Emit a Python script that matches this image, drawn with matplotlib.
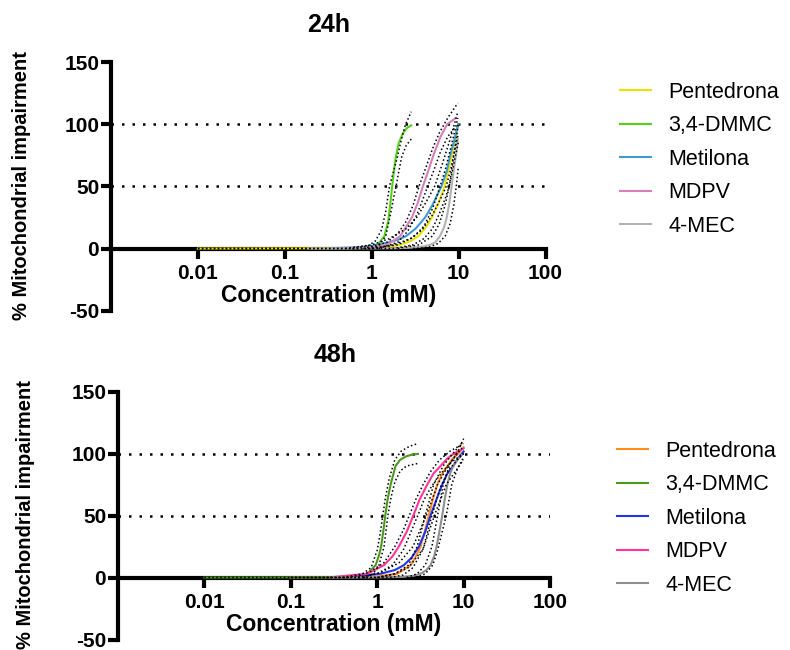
import matplotlib
matplotlib.use("Agg")
import matplotlib.pyplot as plt
from matplotlib.ticker import NullLocator

plt.rcParams["font.family"] = ["Liberation Sans", "DejaVu Sans"]
plt.rcParams["axes.unicode_minus"] = False

compounds = ["Pentedrona", "3,4-DMMC", "Metilona", "MDPV", "4-MEC"]
x_ticks = [0.01, 0.1, 1, 10, 100]
x_tick_labels = ["0.01", "0.1", "1", "10", "100"]
y_ticks = [-50, 0, 50, 100, 150]
ref_levels = [50, 100]

# ---- 24h: fitted curves, points (mM, %) ----
h24_pentedrona = [(0.01, 0), (0.5, 0.2), (1, 0.7), (1.5, 1.5), (2.13, 3), (2.8, 6), (3.45, 10),
                  (4.2, 17), (4.92, 25), (5.9, 37), (6.9, 50), (7.6, 62), (8.35, 75), (9.1, 88), (9.9, 100)]
h24_dmmc = [(0.5, 0.3), (1.0, 1.5), (1.2, 4), (1.4, 10), (1.55, 22), (1.65, 38), (1.72, 50),
            (1.8, 62), (1.9, 74), (2.05, 85), (2.3, 93), (2.55, 97), (2.85, 99)]
h24_metilona = [(0.36, 0.3), (0.6, 0.8), (1.0, 2), (1.56, 5), (2.0, 7), (2.49, 10), (3.2, 16),
                (4.12, 25), (5.0, 35), (6.35, 50), (7.3, 62), (8.0, 75), (9.0, 88), (9.9, 100)]
h24_mdpv = [(0.5, 0.2), (1, 1), (1.5, 3), (2.13, 10), (2.9, 25), (3.4, 37), (3.88, 50),
            (4.5, 63), (5.13, 75), (6.2, 90), (7.4, 100), (9.3, 105)]
h24_mec = [(0.19, 0), (1, 0.1), (2, 0.3), (3, 0.8), (4, 1.8), (4.7, 3), (5.4, 5), (6.1, 10), (6.8, 17),
           (7.3, 25), (7.8, 36), (8.2, 47), (8.6, 58), (9.1, 70), (9.4, 77), (9.8, 88)]

# 24h: 95% confidence bands (upper, lower)
h24_pentedrona_ci = ([(0.01, 0), (1, 0), (2, 3), (3, 9), (4, 18), (5, 32), (6, 48), (7, 63), (8.2, 82), (9.8, 105)],
                     [(0.01, 0), (1.8, 0), (3, 3), (4, 8), (5, 16), (6, 28), (7, 40), (7.8, 50), (8.8, 68), (9.9, 85)])
h24_dmmc_ci = ([(0.6, 0), (0.9, 2), (1.1, 6), (1.3, 15), (1.45, 30), (1.6, 50), (1.8, 63), (1.98, 74),
                (2.2, 88), (2.43, 99), (2.65, 105), (2.85, 110)],
               [(0.9, 0), (1.2, 2), (1.45, 10), (1.65, 28), (1.8, 42), (1.91, 50), (2.05, 62), (2.22, 74),
                (2.5, 83), (2.85, 88)])
h24_metilona_ci = ([(0.5, 0), (1, 3), (1.6, 8), (2.5, 16), (3.3, 25), (4.2, 37), (5.3, 50), (6.5, 68), (8, 88), (9.8, 110)],
                   [(1, 0), (1.8, 3), (2.8, 8), (3.8, 15), (5.0, 27), (6.2, 40), (7.2, 50), (8.2, 65), (9.2, 82), (9.9, 92)])
h24_mdpv_ci = ([(0.8, 0), (1.5, 5), (2.0, 12), (2.5, 22), (3.0, 35), (3.5, 50), (4.2, 65), (5.0, 80), (6.0, 93),
                (7.5, 105), (9.8, 117)],
               [(1.2, 0), (2, 5), (2.6, 14), (3.3, 27), (3.9, 40), (4.4, 50), (5.2, 63), (6.2, 78), (7.5, 90), (9.0, 97)])
h24_mec_ci = ([(2, 0), (3.5, 3), (5, 10), (6, 20), (7, 35), (7.8, 50), (8.6, 70), (9.5, 90), (9.9, 100)],
              [(3, 0), (4.5, 1), (5.8, 4), (7, 10), (8, 20), (8.8, 35), (9.4, 50), (9.9, 65)])

# ---- 48h ----
h48_pentedrona = [(0.1, 0), (0.5, 0.2), (1, 0.8), (1.71, 3), (2.44, 10), (2.8, 17), (3.18, 25), (3.55, 37),
                  (3.95, 50), (4.4, 63), (4.96, 75), (5.7, 84), (6.5, 90), (7.5, 96), (8.7, 100), (10, 105)]
h48_dmmc = [(0.01, 0), (0.3, 0.2), (0.6, 1), (0.77, 3), (0.96, 10), (1.05, 18), (1.11, 25), (1.18, 38),
            (1.24, 50), (1.32, 63), (1.43, 75), (1.63, 90), (1.85, 95), (2.13, 97.5), (2.5, 99), (2.96, 99.7)]
h48_metilona = [(0.3, 0), (0.5, 0.5), (1.09, 3), (1.6, 6), (2.04, 10), (2.5, 16), (3.04, 25), (3.6, 37),
                (4.15, 50), (4.85, 63), (5.66, 75), (6.5, 84), (7.6, 90), (8.8, 97), (10, 101.6)]
h48_mdpv = [(0.3, 0.3), (0.77, 3), (1.2, 10), (1.5, 17), (1.78, 25), (2.2, 37), (2.62, 50), (3.1, 63),
            (3.8, 75), (4.5, 84), (5.42, 90), (6.5, 96), (7.7, 100), (10, 104)]
h48_mec = [(0.3, 0), (1, 0.1), (2, 0.5), (2.7, 1.5), (3.18, 3), (3.7, 6), (4.15, 10), (4.55, 17), (4.87, 25),
           (5.25, 37), (5.66, 50), (6.05, 63), (6.48, 75), (7, 84), (7.6, 90), (8.5, 95), (9.6, 99)]

h48_pentedrona_ci = ([(0.1, 0), (1, 0), (1.6, 3), (2.3, 10), (2.9, 25), (3.6, 50), (4.5, 75), (5.8, 90), (7.5, 100), (10, 110)],
                     [(0.1, 0), (1.4, 0), (2.0, 2), (2.6, 8), (3.4, 23), (4.3, 50), (5.4, 73), (6.8, 87), (8.5, 95), (10, 100)])
h48_dmmc_ci = ([(0.01, 0), (0.45, 0), (0.65, 2), (0.85, 8), (1.0, 22), (1.08, 35), (1.16, 50), (1.25, 65), (1.38, 80),
                (1.6, 95), (1.9, 102), (2.4, 106), (2.96, 108)],
               [(0.7, 0), (0.9, 3), (1.05, 10), (1.2, 25), (1.33, 50), (1.45, 65), (1.6, 77), (1.85, 86),
                (2.2, 90), (2.96, 92)])
h48_metilona_ci = ([(0.6, 0), (1.1, 4), (1.8, 12), (2.6, 25), (3.7, 50), (5.0, 75), (6.6, 90), (8.5, 100), (10, 106)],
                   [(1.0, 0), (1.6, 3), (2.3, 8), (3.4, 23), (4.6, 50), (6.3, 75), (8.5, 88), (10, 95)])
h48_mdpv_ci = ([(0.4, 0), (0.8, 4), (1.2, 12), (1.6, 25), (2.0, 38), (2.35, 50), (2.8, 63), (3.4, 75), (4.2, 86),
                (5.3, 95), (7, 102), (10, 108)],
               [(0.6, 0), (1.0, 3), (1.5, 10), (2.0, 22), (2.5, 38), (2.95, 50), (3.5, 63), (4.3, 74), (5.5, 84),
                (7.2, 93), (10, 100)])
h48_mec_ci = ([(2.2, 0), (2.9, 3), (3.6, 10), (4.3, 25), (5.0, 50), (5.8, 75), (7, 92), (8.5, 101), (10, 112)],
              [(2.8, 0), (3.6, 3), (4.4, 10), (5.0, 22), (6.3, 50), (7.3, 75), (8.5, 88), (10, 97)])

colors_24 = ["#ece400", "#55d11a", "#3c9bd6", "#d77fb9", "#b3b3b3"]
colors_48 = ["#ff8c1a", "#4a9a1c", "#2233ee", "#ff3399", "#8f8f8f"]

panels = [
    ("24h", [h24_pentedrona, h24_dmmc, h24_metilona, h24_mdpv, h24_mec],
     [h24_pentedrona_ci, h24_dmmc_ci, h24_metilona_ci, h24_mdpv_ci, h24_mec_ci], colors_24),
    ("48h", [h48_pentedrona, h48_dmmc, h48_metilona, h48_mdpv, h48_mec],
     [h48_pentedrona_ci, h48_dmmc_ci, h48_metilona_ci, h48_mdpv_ci, h48_mec_ci], colors_48),
]

W, H = 790, 650
fig = plt.figure(figsize=(W / 100, H / 100), dpi=100)

# pixel boxes: left, top, right, bottom
boxes = [(111, 62, 545.5, 310.7), (118, 391.5, 550, 639.5)]
title_pos = [(329, 25), (335, 355)]
ylabel_pos = [(22, 186), (26, 515)]
legend_pos = [(620, 82), (617, 441)]


def xy(points):
    return [p[0] for p in points], [p[1] for p in points]


for (title, curves, cis, colors), (l, t, r, b), tp, yp, lp in zip(panels, boxes, title_pos, ylabel_pos, legend_pos):
    ax = fig.add_axes([l / W, 1 - b / H, (r - l) / W, (b - t) / H])
    ax.set_xscale("log")
    ax.set_xlim(0.001, 100)
    ax.set_ylim(-50, 150)

    for lev in ref_levels:
        ax.axhline(lev, color="black", lw=1.8, linestyle=(0, (1, 3.2)), zorder=1)

    handles = []
    for pts, ci, col, name in zip(curves, cis, colors, compounds):
        x, y = xy(pts)
        ln, = ax.plot(x, y, color=col, lw=1.5, zorder=3, label=name)
        handles.append(ln)
        for band in ci:
            bx, by = xy(band)
            ax.plot(bx, by, color="black", lw=1.1, linestyle=(0, (1, 1.6)), zorder=3.5)

    for side in ["top", "right"]:
        ax.spines[side].set_visible(False)
    ax.spines["bottom"].set_position(("data", 0))
    ax.spines["bottom"].set_linewidth(3)
    ax.spines["left"].set_linewidth(3)
    ax.spines["bottom"].set_zorder(2.5)

    ax.set_xticks(x_ticks)
    ax.set_xticklabels(x_tick_labels)
    ax.xaxis.set_minor_locator(NullLocator())
    ax.set_yticks(y_ticks)
    ax.tick_params(axis="both", width=3, length=7, direction="out", labelsize=15)
    ax.tick_params(axis="x", pad=4)
    ax.tick_params(axis="y", pad=1.5)
    for lab in ax.get_xticklabels() + ax.get_yticklabels():
        lab.set_fontweight("bold")

    ax.set_xlabel("Concentration (mM)", fontsize=16.5, fontweight="bold", labelpad=1)

    fig.text(tp[0] / W, 1 - tp[1] / H, title, fontsize=18, fontweight="bold", ha="center", va="center")
    fig.text(yp[0] / W, 1 - yp[1] / H, "% Mitochondrial impairment", fontsize=14.5, fontweight="bold",
             rotation=90, ha="center", va="center")

    fig.legend(handles=handles, loc="upper left", bbox_to_anchor=(lp[0] / W, 1 - lp[1] / H),
               frameon=False, fontsize=15.5, handlelength=1.45, handletextpad=0.8,
               labelspacing=0.58, borderpad=0, borderaxespad=0)

fig.savefig("out.png", dpi=100)
